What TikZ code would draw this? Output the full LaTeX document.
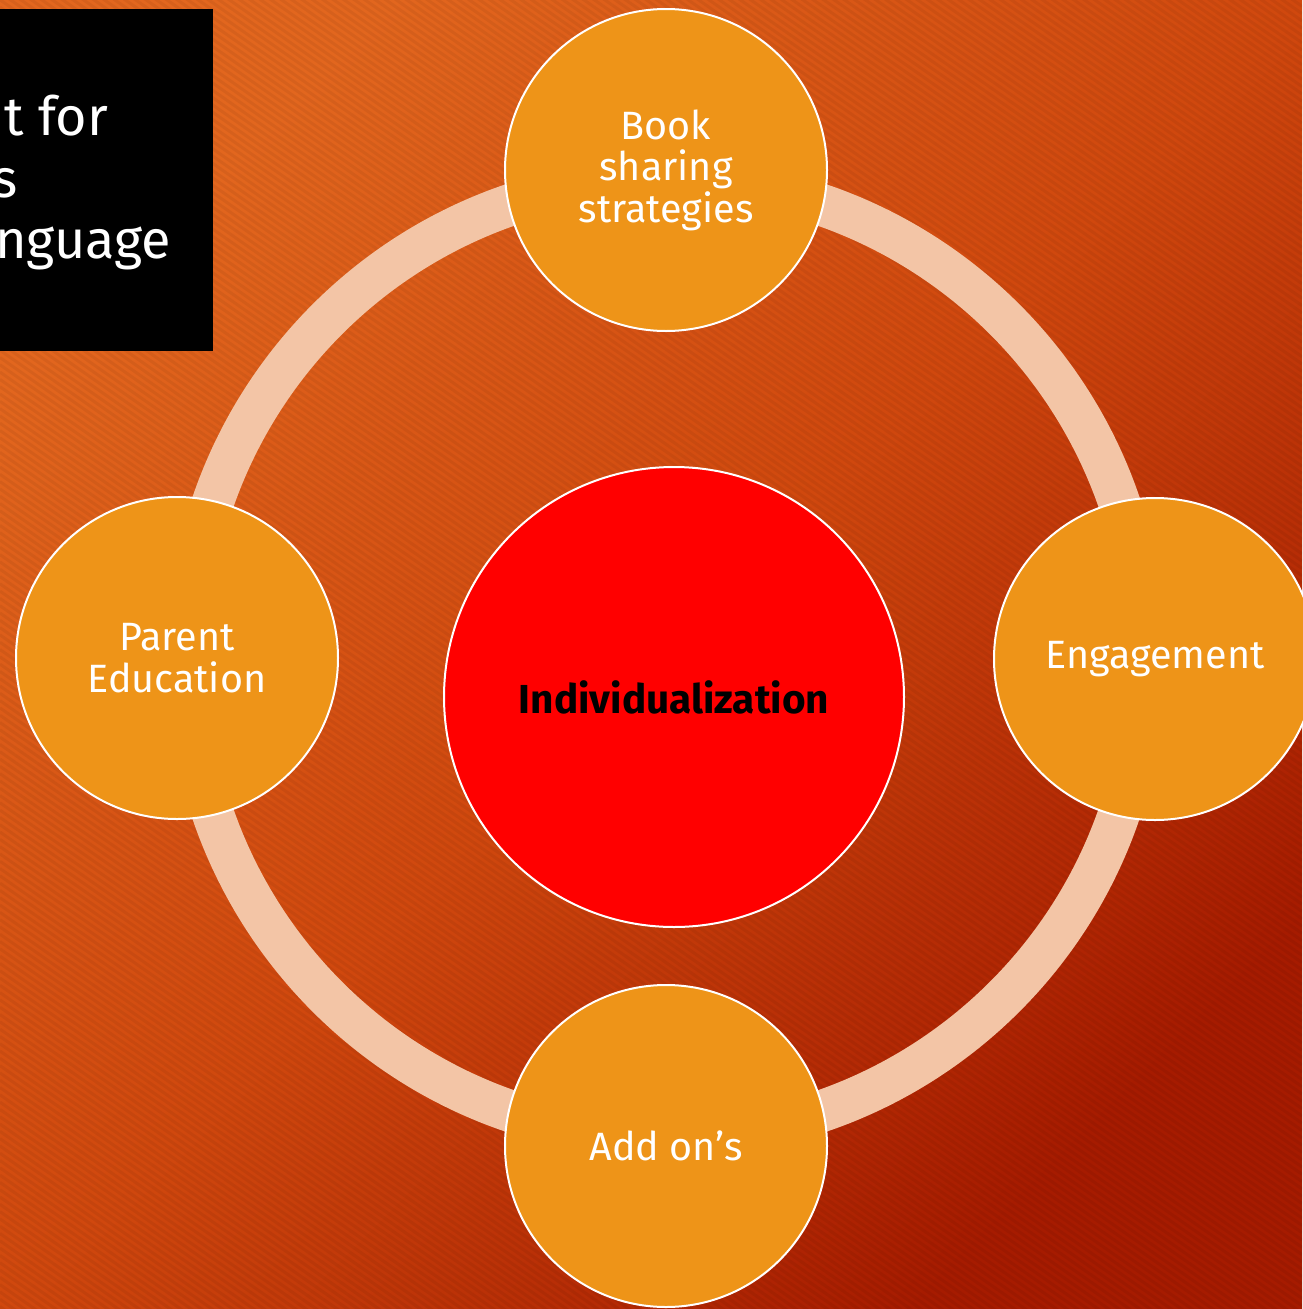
\documentclass[tikz,border=0pt]{standalone}
\usepackage{fontspec}
\setmainfont{Fira Sans}
\definecolor{bgTL}{HTML}{E2661E}
\definecolor{bgMid}{HTML}{D0480E}
\definecolor{bgBR}{HTML}{A61B00}
\definecolor{ringc}{HTML}{F3C5A6}
\definecolor{topicfill}{HTML}{EE9418}
\definecolor{hubfill}{HTML}{FF0000}
\begin{document}
\begin{tikzpicture}[x=1pt,y=-1pt,
  topic/.style={circle, draw=white, line width=2pt, fill=topicfill,
    minimum size=322pt, inner sep=0pt, text=white, align=center,
    font=\fontsize{39.5}{41.5}\selectfont},
  hub/.style={circle, draw=white, line width=2pt, fill=hubfill,
    minimum size=460pt, inner sep=0pt, text=black,
    font=\fontsize{40.5}{42}\selectfont\bfseries},
  titletext/.style={anchor=base west, inner sep=0pt, text=white,
    font=\fontsize{54}{60}\selectfont},
  stripe/.style={draw=black, draw opacity=0.05, line width=3pt}]
\useasboundingbox (0,0) rectangle (1302,1309);
% background: diagonal gradient with faint stripes
\shade[top color=bgTL, bottom color=bgBR, middle color=bgMid, shading angle=45]
  (0,0) rectangle (1302,1309);
\begin{scope}
  \clip (0,0) rectangle (1302,1309);
  \foreach \c in {-920,-912.7,...,1315}
    \draw[stripe] (0,\c) -- (1302,\c+911.7);
\end{scope}
% title panel, cut at the left edge
\fill[black] (0,9) rectangle (213,351);
\begin{scope}
  \clip (0,9) rectangle (213,351);
  \node[titletext] (t1) at (4,135) {t for};
  \node[titletext] (t2) at (-8,197) {s};
  \node[titletext] (t3) at (-5,258) {nguage};
\end{scope}
% cycle ring
\coordinate (ringc) at (666,658);
\draw[ringc, line width=42pt] (ringc) circle[radius=479];
% topics on the ring
\node[topic] (book) at (666,170) {Book\\sharing\\strategies};
\node[topic] (engage) at (1155,659) {Engagement};
\node[topic] (addon) at (666,1146) {Add on’s};
\node[topic] (parent) at (177,658) {Parent\\Education};
% central hub
\node[hub] (hub) at (674,697) {Individualization};
\end{tikzpicture}
\end{document}
